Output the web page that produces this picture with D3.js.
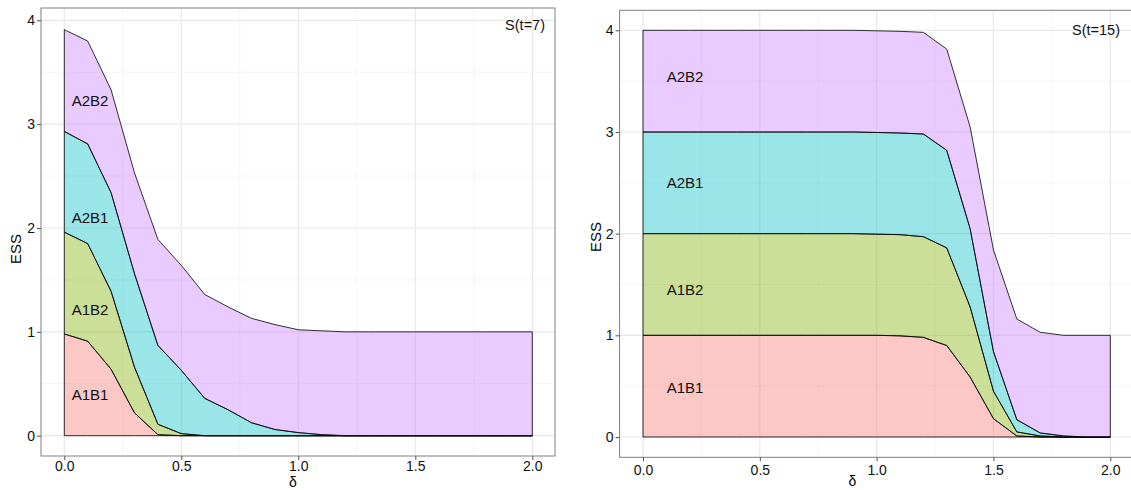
<!DOCTYPE html>
<html>
<head>
<meta charset="utf-8">
<script src="https://cdn.jsdelivr.net/npm/d3@7/dist/d3.min.js"></script>
<style>
  body { margin: 0; background: #fff; }
  svg { display: block; font-family: "Liberation Sans", Arial, Helvetica, sans-serif; }
</style>
</head>
<body>
<div id="chart"></div>
<script>
// delta grid (x values)
var delta = [0, 0.1, 0.2, 0.3, 0.4, 0.5, 0.6, 0.7, 0.8, 0.9, 1.0,
             1.1, 1.2, 1.3, 1.4, 1.5, 1.6, 1.7, 1.8, 1.9, 2.0];

var groups = ["A1B1", "A1B2", "A2B1", "A2B2"];
var groupColors = ["#F8766D", "#7CAE00", "#00BFC4", "#C77CFF"];

// S(t=7) - ESS contribution of each group
var a1b1_t7 = [0.98, 0.91, 0.64, 0.22, 0.01, 0, 0, 0, 0, 0, 0, 0, 0, 0, 0, 0, 0, 0, 0, 0, 0];
var a1b2_t7 = [0.98, 0.94, 0.75, 0.44, 0.10, 0.02, 0, 0, 0, 0, 0, 0, 0, 0, 0, 0, 0, 0, 0, 0, 0];
var a2b1_t7 = [0.97, 0.96, 0.95, 0.90, 0.76, 0.61, 0.36, 0.25, 0.125, 0.06, 0.03, 0.01, 0, 0, 0, 0, 0, 0, 0, 0, 0];
var a2b2_t7 = [0.98, 0.99, 0.99, 0.97, 1.02, 1.01, 1.00, 0.99, 1.005, 1.01, 0.99, 1.00, 1.00, 1.00, 1.00, 1.00, 1.00, 1.00, 1.00, 1.00, 1.00];

// S(t=15)
var a1b1_t15 = [1, 1, 1, 1, 1, 1, 1, 1, 1, 1, 1, 0.995, 0.98, 0.90, 0.59, 0.18, 0.01, 0, 0, 0, 0];
var a1b2_t15 = [1, 1, 1, 1, 1, 1, 1, 1, 1, 1, 0.995, 0.995, 0.99, 0.96, 0.69, 0.27, 0.04, 0.01, 0, 0, 0];
var a2b1_t15 = [1, 1, 1, 1, 1, 1, 1, 1, 1, 1, 1, 1, 1.01, 0.96, 0.77, 0.39, 0.12, 0.03, 0.01, 0, 0];
var a2b2_t15 = [1, 1, 1, 1, 1, 1, 1, 1, 1, 1, 1, 1, 1.00, 0.995, 1.00, 1.00, 0.99, 0.99, 0.99, 1.00, 1.00];

// in-area labels (data coordinates)
var labelX_t7 = [0.11, 0.11, 0.11, 0.11];
var labelY_t7 = [0.40, 1.21, 2.10, 3.23];
var labelX_t15 = [0.18, 0.18, 0.18, 0.18];
var labelY_t15 = [0.49, 1.445, 2.50, 3.54];

var xTicks = [0, 0.5, 1.0, 1.5, 2.0];
var xMinor = [0.25, 0.75, 1.25, 1.75];
var yTicks = [0, 1, 2, 3, 4];
var yMinor = [0.5, 1.5, 2.5, 3.5];

var W = 1131, H = 490;

var svg = d3.select("#chart").append("svg")
    .attr("width", W)
    .attr("height", H);

function buildRows(series) {
  return delta.map(function(d, i) {
    var row = { delta: d };
    groups.forEach(function(g, j) { row[g] = series[j][i]; });
    return row;
  });
}

var panels = [
  {
    title: "S(t=7)",
    series: [a1b1_t7, a1b2_t7, a2b1_t7, a2b2_t7],
    labelX: labelX_t7, labelY: labelY_t7,
    box: { x0: 41, x1: 555, y0: 8, y1: 456 },
    xr: [64.3, 532.3], yr: [435.7, 20.3],
    titlePos: [545, 30],
    essPos: [21, 249],
    deltaPos: [293, 486.5],
    xPad: 1
  },
  {
    title: "S(t=15)",
    series: [a1b1_t15, a1b2_t15, a2b1_t15, a2b2_t15],
    labelX: labelX_t15, labelY: labelY_t15,
    box: { x0: 619.6, x1: 1134, y0: 10.3, y1: 457.3 },
    xr: [643, 1110.3], yr: [437, 30.3],
    titlePos: [1120, 35],
    essPos: [601, 237],
    deltaPos: [852.5, 486],
    xPad: 4
  }
];

panels.forEach(function(p) {
  var x = d3.scaleLinear().domain([0, 2]).range(p.xr);
  var y = d3.scaleLinear().domain([0, 4]).range(p.yr);
  var b = p.box;

  var g = svg.append("g");

  // panel background + grid
  g.append("rect")
    .attr("x", b.x0).attr("y", b.y0)
    .attr("width", b.x1 - b.x0).attr("height", b.y1 - b.y0)
    .attr("fill", "#fff");

  g.selectAll("line.xminor").data(xMinor).enter().append("line")
    .attr("x1", d => x(d)).attr("x2", d => x(d))
    .attr("y1", b.y0).attr("y2", b.y1)
    .attr("stroke", "#f3f3f3").attr("stroke-width", 0.8);
  g.selectAll("line.yminor").data(yMinor).enter().append("line")
    .attr("y1", d => y(d)).attr("y2", d => y(d))
    .attr("x1", b.x0).attr("x2", b.x1)
    .attr("stroke", "#f3f3f3").attr("stroke-width", 0.8);
  g.selectAll("line.xmajor").data(xTicks).enter().append("line")
    .attr("x1", d => x(d)).attr("x2", d => x(d))
    .attr("y1", b.y0).attr("y2", b.y1)
    .attr("stroke", "#e8e8e8").attr("stroke-width", 1.2);
  g.selectAll("line.ymajor").data(yTicks).enter().append("line")
    .attr("y1", d => y(d)).attr("y2", d => y(d))
    .attr("x1", b.x0).attr("x2", b.x1)
    .attr("stroke", "#e8e8e8").attr("stroke-width", 1.2);

  // stacked areas
  var stacked = d3.stack().keys(groups)(buildRows(p.series));
  var area = d3.area()
    .x(d => x(d.data.delta))
    .y0(d => y(d[0]))
    .y1(d => y(d[1]));

  g.selectAll("path.layer").data(stacked).enter().append("path")
    .attr("class", "layer")
    .attr("d", area)
    .attr("fill", (d, i) => groupColors[i])
    .attr("fill-opacity", 0.4)
    .attr("stroke", "#000")
    .attr("stroke-width", 0.8)
    .attr("stroke-linejoin", "round");

  // group labels
  g.selectAll("text.lab").data(groups).enter().append("text")
    .attr("x", (d, i) => x(p.labelX[i]))
    .attr("y", (d, i) => y(p.labelY[i]))
    .attr("dy", "0.36em")
    .attr("text-anchor", "middle")
    .attr("font-size", 15)
    .attr("fill", "#111")
    .text(d => d);

  // panel border
  g.append("rect")
    .attr("x", b.x0).attr("y", b.y0)
    .attr("width", b.x1 - b.x0).attr("height", b.y1 - b.y0)
    .attr("fill", "none")
    .attr("stroke", "#808080")
    .attr("stroke-width", 1);

  // axes
  var xAxis = g.append("g")
    .attr("transform", "translate(0," + b.y1 + ")")
    .call(d3.axisBottom(x).tickValues(xTicks).tickFormat(d3.format(".1f")).tickSize(4).tickPadding(p.xPad));
  var yAxis = g.append("g")
    .attr("transform", "translate(" + b.x0 + ",0)")
    .call(d3.axisLeft(y).tickValues(yTicks).tickFormat(d3.format("d")).tickSize(4).tickPadding(2));

  [xAxis, yAxis].forEach(function(ax) {
    ax.select(".domain").remove();
    ax.selectAll(".tick line").attr("stroke", "#555");
    ax.selectAll(".tick text")
      .attr("font-size", 14)
      .attr("font-family", "Liberation Sans, Arial, sans-serif")
      .attr("fill", "#111");
  });

  // titles
  g.append("text")
    .attr("x", p.titlePos[0]).attr("y", p.titlePos[1])
    .attr("text-anchor", "end")
    .attr("font-size", 14.5)
    .attr("fill", "#111")
    .text(p.title);

  g.append("text")
    .attr("transform", "translate(" + p.essPos[0] + "," + p.essPos[1] + ") rotate(-90)")
    .attr("text-anchor", "middle")
    .attr("font-size", 15)
    .attr("fill", "#000")
    .text("ESS");

  g.append("text")
    .attr("x", p.deltaPos[0]).attr("y", p.deltaPos[1])
    .attr("text-anchor", "middle")
    .attr("font-size", 14)
    .attr("fill", "#000")
    .text("δ");
});
</script>
</body>
</html>
